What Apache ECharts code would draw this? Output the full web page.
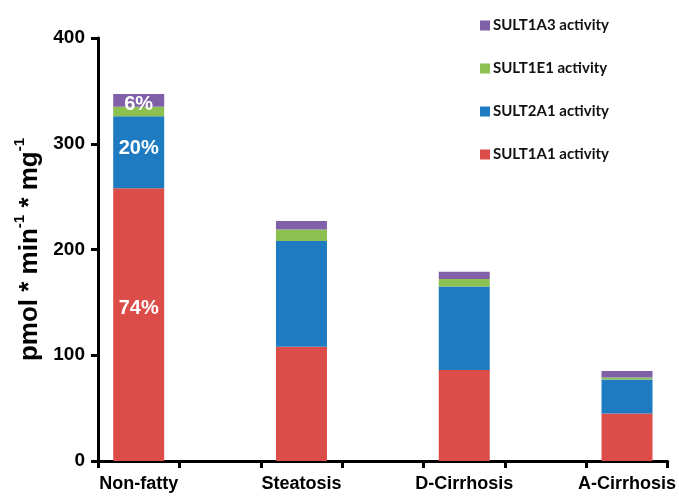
<!DOCTYPE html>
<html>
<head>
<meta charset="utf-8">
<script src="https://cdn.jsdelivr.net/npm/echarts@6/dist/echarts.min.js"></script>
<style>
  html, body { margin: 0; padding: 0; background: #fff; }
  #chart { width: 679px; height: 500px; }
</style>
</head>
<body>
<div id="chart"></div>
<script>
// Sulfotransferase activity per liver condition (pmol * min^-1 * mg^-1)
var categories = ['Non-fatty', 'Steatosis', 'D-Cirrhosis', 'A-Cirrhosis'];
var sult1a1 = [258, 108, 86, 45];
var sult2a1 = [68, 100, 79, 32];
var sult1e1 = [9, 11, 7, 2];
var sult1a3 = [12, 8, 7, 6];
var yTicks = [0, 100, 200, 300, 400];

var names = ['SULT1A1 activity', 'SULT2A1 activity', 'SULT1E1 activity', 'SULT1A3 activity'];
var colors = ['#DC4D4A', '#1E7BC1', '#8CC152', '#8060A8'];

// Categories are spread over 7 slots with an empty slot between bars
function spread(arr, blank) {
  var out = [];
  arr.forEach(function (v, i) {
    if (i > 0) out.push(blank);
    out.push(v);
  });
  return out;
}
var xSlots = spread(categories, '');

// Shares of the first group, shown inside its bar
var total0 = sult1a1[0] + sult2a1[0] + sult1e1[0] + sult1a3[0];
var pct1a1 = Math.round(sult1a1[0] / total0 * 100) + '%';
var pct2a1 = Math.round(sult2a1[0] / total0 * 100) + '%';
var pctRest = Math.round((sult1e1[0] + sult1a3[0]) / total0 * 100) + '%';

function pctLabel(text, offset) {
  return {
    show: true,
    position: 'inside',
    offset: offset,
    color: '#fff',
    fontFamily: 'Liberation Sans',
    fontWeight: 'bold',
    fontSize: 20,
    formatter: function (p) { return p.dataIndex === 0 ? text : ''; }
  };
}

var seriesData = [sult1a1, sult2a1, sult1e1, sult1a3];
var labels = [pctLabel(pct1a1, [0, -16]), pctLabel(pct2a1, [0, -4]), null, pctLabel(pctRest, [0, 4])];

var series = seriesData.map(function (vals, k) {
  var s = {
    name: names[k],
    type: 'bar',
    stack: 'total',
    barWidth: 51,
    itemStyle: { color: colors[k] },
    data: spread(vals, '-'),
    silent: true
  };
  if (labels[k]) s.label = labels[k];
  if (k === 3) s.z = 3;
  return s;
});

var chart = echarts.init(document.getElementById('chart'), null, { renderer: 'canvas' });
chart.setOption({
  animation: false,
  backgroundColor: '#fff',
  grid: { left: 98, right: 11, top: 38, bottom: 39, containLabel: false },
  legend: {
    data: names.slice().reverse(),
    orient: 'vertical',
    left: 480,
    top: 18,
    padding: 0,
    itemWidth: 10,
    itemHeight: 10,
    itemGap: 28,
    icon: 'rect',
    textStyle: { fontFamily: 'Lato', fontWeight: 'bold', fontSize: 15, color: '#111', padding: [0, 0, 0, -2] }
  },
  xAxis: {
    type: 'category',
    data: xSlots,
    axisLine: { lineStyle: { color: '#000', width: 3 } },
    axisTick: { show: true, interval: 0, length: 7, lineStyle: { color: '#000', width: 3 } },
    axisLabel: {
      interval: 0,
      margin: 14,
      color: '#000',
      fontFamily: 'Liberation Sans',
      fontWeight: 'bold',
      fontSize: 18
    }
  },
  yAxis: {
    type: 'value',
    min: yTicks[0],
    max: yTicks[yTicks.length - 1],
    interval: yTicks[1] - yTicks[0],
    splitLine: { show: false },
    axisLine: { show: true, lineStyle: { color: '#000', width: 3 } },
    axisTick: { show: true, length: 7, lineStyle: { color: '#000', width: 3 } },
    axisLabel: {
      margin: 13,
      color: '#000',
      fontFamily: 'Liberation Sans',
      fontWeight: 'bold',
      fontSize: 19
    },
    name: '{t|pmol * min}{s|-1}{t| * mg}{s|-1}',
    nameLocation: 'middle',
    nameRotate: 90,
    nameGap: 54,
    nameTextStyle: {
      rich: {
        t: { fontFamily: 'Liberation Sans', fontWeight: 'bold', fontSize: 26, color: '#000', verticalAlign: 'bottom' },
        s: { fontFamily: 'Liberation Sans', fontWeight: 'bold', fontSize: 15, color: '#000', verticalAlign: 'top', padding: [0, 0, 15, 0] }
      }
    }
  },
  series: series
});
</script>
</body>
</html>
